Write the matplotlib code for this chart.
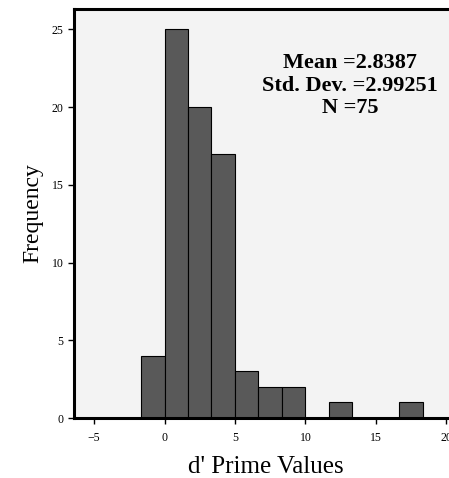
import matplotlib
matplotlib.use("Agg")
import matplotlib.pyplot as plt

# histogram bins (width 5/3)
bin_edges = [-5/3, 0, 5/3, 10/3, 5, 20/3, 25/3, 10, 35/3, 40/3, 15, 50/3, 55/3]
counts = [4, 25, 20, 17, 3, 2, 2, 0, 1, 0, 0, 1]
x_ticks = [-5, 0, 5, 10, 15, 20]
y_ticks = [0, 5, 10, 15, 20, 25]
stats_lines = ["Mean =2.8387", "Std. Dev. =2.99251", "N =75"]

plt.rcParams['font.family'] = ['Liberation Serif', 'DejaVu Serif']

fig = plt.figure(figsize=(4.49, 4.78), dpi=100)
ax = fig.add_axes([0.165, 0.1255, 0.855, 0.8555])
ax.set_facecolor('#f3f3f3')

lefts = bin_edges[:-1]
widths = [bin_edges[i + 1] - bin_edges[i] for i in range(len(counts))]
ax.bar(lefts, counts, width=widths, align='edge', color='#595959',
       edgecolor='black', linewidth=0.8)

ax.set_xlim(-6.42, 20.83)
ax.set_ylim(0, 26.3)
ax.set_xticks(x_ticks)
ax.set_yticks(y_ticks)
ax.tick_params(labelsize=8.5, length=4, width=1, direction='out')
ax.tick_params(axis='x', pad=6)

for side in ['left', 'top', 'bottom']:
    ax.spines[side].set_linewidth(2.2)
ax.spines['right'].set_visible(False)

ax.text(13.15, 23.45, "\n".join(stats_lines), ha='center', va='top',
        fontsize=16, fontweight='bold', linespacing=1.15)

ax.set_xlabel("d' Prime Values", fontsize=18, labelpad=9)
ax.set_ylabel("Frequency", fontsize=17, labelpad=6)

fig.savefig("out.png", dpi=100)
